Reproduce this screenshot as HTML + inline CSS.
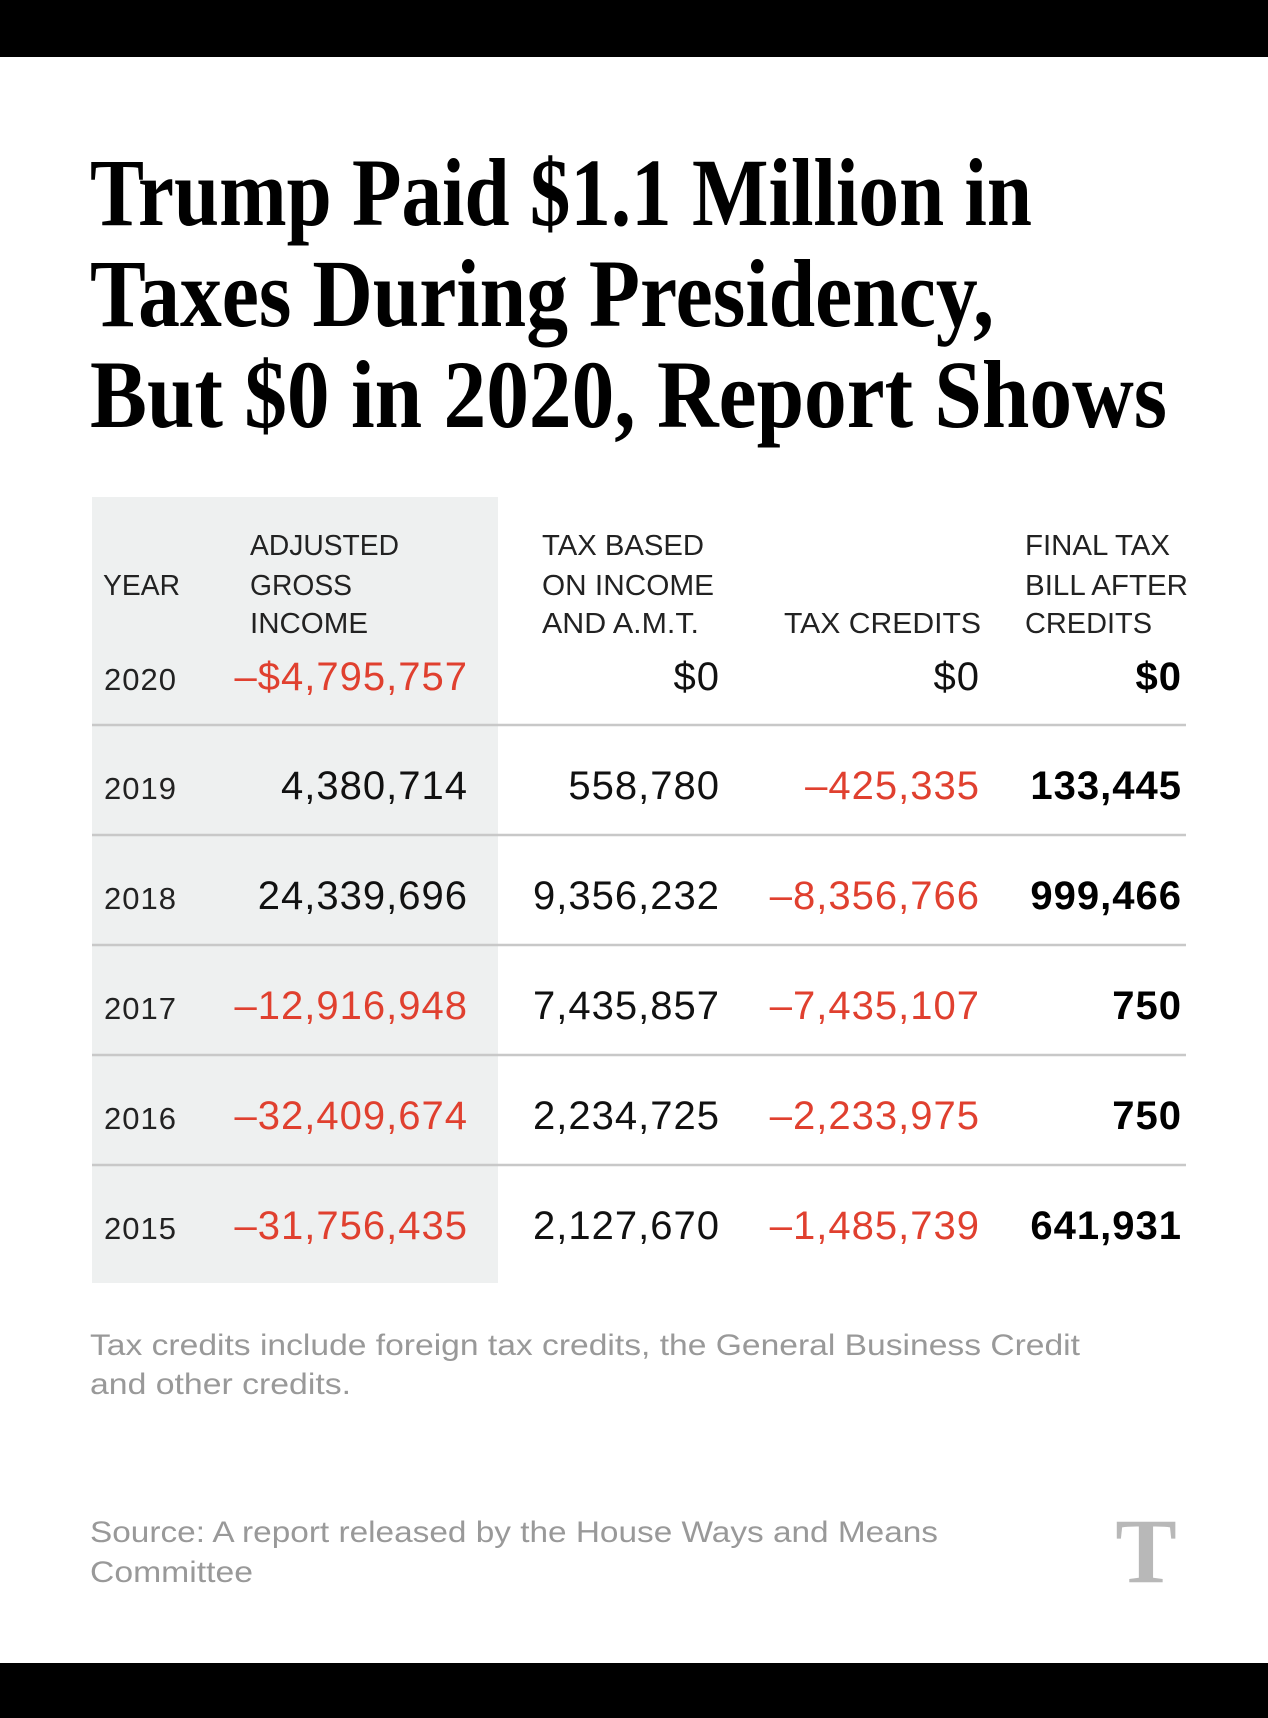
<!DOCTYPE html>
<html><head><meta charset="utf-8"><style>
html,body{margin:0;padding:0;background:#fff;}
svg{display:block;}
</style></head><body>
<svg id="chart" width="1268" height="1718" viewBox="0 0 1268 1718" xmlns="http://www.w3.org/2000/svg">
<rect x="0" y="0" width="1268" height="57" fill="#000"/>
<rect x="0" y="1663" width="1268" height="55" fill="#000"/>
<g font-family="'Liberation Serif', serif" font-weight="bold" font-size="96" fill="#000">
<text x="90" y="225" textLength="942" lengthAdjust="spacingAndGlyphs">Trump Paid $1.1 Million in</text>
<text x="90" y="326" textLength="904" lengthAdjust="spacingAndGlyphs">Taxes During Presidency,</text>
<text x="90" y="427" textLength="1077" lengthAdjust="spacingAndGlyphs">But $0 in 2020, Report Shows</text>
</g>
<rect x="92" y="497" width="406" height="786" fill="#eef0f0"/>
<g font-family="'Liberation Sans', sans-serif" font-size="29" fill="#222">
<text x="103" y="595" textLength="77" lengthAdjust="spacingAndGlyphs">YEAR</text>
<text x="250" y="555" textLength="149" lengthAdjust="spacingAndGlyphs">ADJUSTED</text>
<text x="250" y="595" textLength="102" lengthAdjust="spacingAndGlyphs">GROSS</text>
<text x="250" y="633" textLength="118" lengthAdjust="spacingAndGlyphs">INCOME</text>
<text x="542" y="555" textLength="162" lengthAdjust="spacingAndGlyphs">TAX BASED</text>
<text x="542" y="595" textLength="172" lengthAdjust="spacingAndGlyphs">ON INCOME</text>
<text x="542" y="633" textLength="157" lengthAdjust="spacingAndGlyphs">AND A.M.T.</text>
<text x="784" y="633" textLength="197" lengthAdjust="spacingAndGlyphs">TAX  CREDITS</text>
<text x="1025" y="555" textLength="145" lengthAdjust="spacingAndGlyphs">FINAL TAX</text>
<text x="1025" y="595" textLength="163" lengthAdjust="spacingAndGlyphs">BILL AFTER</text>
<text x="1025" y="633" textLength="127" lengthAdjust="spacingAndGlyphs">CREDITS</text>
</g>
<g id="rows"></g>
<g font-family="'Liberation Sans', sans-serif" font-size="30" fill="#999">
<text x="90" y="1355" textLength="990" lengthAdjust="spacingAndGlyphs">Tax credits include foreign tax credits, the General Business Credit</text>
<text x="90" y="1394" textLength="261" lengthAdjust="spacingAndGlyphs">and other credits.</text>
</g>
<g font-family="'Liberation Sans', sans-serif" font-size="30" fill="#999">
<text x="90" y="1542" textLength="848" lengthAdjust="spacingAndGlyphs">Source: A report released by the House Ways and Means</text>
<text x="90" y="1582" textLength="163" lengthAdjust="spacingAndGlyphs">Committee</text>
</g>
<text x="1146" y="1582" text-anchor="middle" font-family="'Liberation Serif', serif" font-weight="bold" font-size="92" fill="#b8b8b8">T</text>
</svg>
<script>
const years = ["2020","2019","2018","2017","2016","2015"];
const agi = [-4795757, 4380714, 24339696, -12916948, -32409674, -31756435];
const taxBased = [0, 558780, 9356232, 7435857, 2234725, 2127670];
const credits = [0, -425335, -8356766, -7435107, -2233975, -1485739];
const finalBill = [0, 133445, 999466, 750, 750, 641931];

const NS = "http://www.w3.org/2000/svg";
const g = document.getElementById("rows");
const rowY = i => i === 0 ? 690 : 799 + (i - 1) * 110;
const lineY = i => 725 + i * 110;
function fmt(v, dollar) {
  const s = Math.abs(v).toLocaleString("en-US");
  return (v < 0 ? "\u2013" : "") + (dollar ? "$" : "") + s;
}
function addText(x, y, str, color, bold, size, anchor, name) {
  const t = document.createElementNS(NS, "text");
  t.setAttribute("x", x);
  t.setAttribute("y", y);
  t.setAttribute("text-anchor", anchor);
  t.setAttribute("font-family", "'Liberation Sans', sans-serif");
  t.setAttribute("font-size", size);
  t.setAttribute("fill", color);
  if (bold) t.setAttribute("font-weight", "bold");
  t.setAttribute("letter-spacing", "1");
  t.textContent = str;
  
  
  g.appendChild(t);
}
const RED = "#e0402f";
years.forEach((yr, i) => {
  const y = rowY(i);
  const first = i === 0;
  addText(104, y, yr, "#222", false, 31, "start", "year-" + yr);
  addText(468, y, fmt(agi[i], first), agi[i] < 0 ? RED : "#111", false, 40, "end", "agi-" + yr);
  addText(720, y, first ? "$0" : fmt(taxBased[i], false), "#111", false, 40, "end", "tax-based-" + yr);
  addText(980, y, first ? "$0" : fmt(credits[i], false), credits[i] < 0 ? RED : "#111", false, 40, "end", "credits-" + yr);
  addText(1182, y, first ? "$0" : fmt(finalBill[i], false), "#000", true, 40, "end", "final-bill-" + yr);
  if (i < years.length - 1) {
    const l = document.createElementNS(NS, "line");
    l.setAttribute("x1", 92);
    l.setAttribute("x2", 1186);
    l.setAttribute("y1", lineY(i));
    l.setAttribute("y2", lineY(i));
    l.setAttribute("stroke", "#c8c8c8");
    l.setAttribute("stroke-width", 2.5);
    
    
    g.appendChild(l);
  }
});
</script>
</body></html>
